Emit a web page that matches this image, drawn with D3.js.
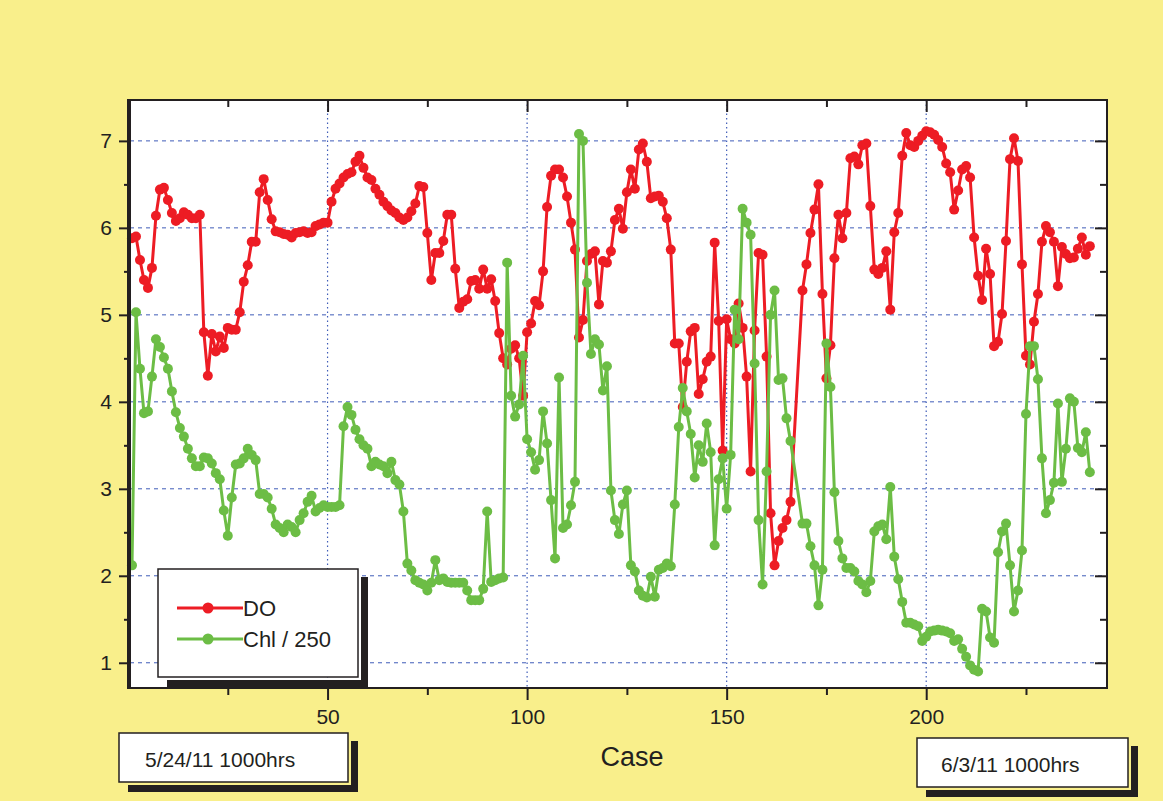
<!DOCTYPE html>
<html>
<head>
<meta charset="utf-8">
<script src="https://cdn.jsdelivr.net/npm/d3@7"></script>
<style>
  body { margin: 0; background: #fff; }
  text { font-family: "Liberation Sans", Arial, Helvetica, sans-serif; fill: #231f20; }
</style>
</head>
<body>
<script>
// values, one per case (null = no sample)
const doValues = [
  5.88, 5.90, 5.63, 5.40, 5.31, 5.54, 6.14, 6.44, 6.46, 6.32,
  6.17, 6.08, 6.11, 6.18, 6.15, 6.11, 6.11, 6.15, 4.80, 4.30,
  4.78, 4.58, 4.75, 4.62, 4.85, 4.83, 4.83, 5.03, 5.38, 5.57,
  5.84, 5.84, 6.41, 6.56, 6.32, 6.10, 5.96, 5.95, 5.93, 5.92,
  5.89, 5.94, 5.95, 5.96, 5.94, 5.95, 6.02, 6.04, 6.06, 6.06,
  6.30, 6.45, 6.51, 6.58, 6.62, 6.64, 6.76, 6.83, 6.69, 6.58,
  6.55, 6.45, 6.38, 6.30, 6.25, 6.20, 6.17, 6.12, 6.09, 6.12,
  6.19, 6.28, 6.48, 6.47, 5.94, 5.40, 5.71, 5.71, 5.85, 6.15,
  6.15, 5.53, 5.08, 5.15, 5.18, 5.39, 5.40, 5.30, 5.52, 5.30,
  5.41, 5.16, 4.79, 4.50, 4.43, 4.61, 4.65, 4.50, 4.07, 4.80,
  4.90, 5.16, 5.11, 5.50, 6.24, 6.60, 6.67, 6.67, 6.58, 6.36,
  6.06, 5.75, 4.74, 4.94, 5.62, 5.70, 5.73, 5.12, 5.62, 5.60,
  5.73, 6.09, 6.22, 5.99, 6.41, 6.67, 6.45, 6.90, 6.97, 6.76,
  6.34, 6.36, 6.37, 6.30, 6.11, 5.75, 4.67, 4.67, 3.94, 4.46,
  4.81, 4.85, 4.09, 4.26, 4.46, 4.52, 5.83, 4.93, 3.44, 4.95,
  4.72, 4.67, 5.13, 4.85, 4.29, 3.20, 4.82, 5.71, 5.69, 4.52,
  2.72, 2.12, 2.40, 2.55, 2.64, 2.85, null, null, 5.28, 5.58,
  5.94, 6.21, 6.50, 5.24, 4.27, 4.65, 5.65, 6.15, 5.88, 6.17,
  6.80, 6.82, 6.73, 6.95, 6.97, 6.25, 5.52, 5.47, 5.54, 5.73,
  5.06, 5.95, 6.17, 6.83, 7.09, 6.95, 6.93, 7.00, 7.06, 7.11,
  7.10, 7.07, 7.01, 6.93, 6.74, 6.64, 6.21, 6.43, 6.67, 6.71,
  6.58, 5.89, 5.45, 5.17, 5.76, 5.47, 4.64, 4.69, 5.01, 5.85,
  6.79, 7.03, 6.77, 5.58, 4.53, 4.43, 4.92, 5.24, 5.84, 6.02,
  5.95, 5.84, 5.33, 5.78, 5.70, 5.65, 5.66, 5.76, 5.89, 5.69, 5.79
];

const chlValues = [
  2.12, 5.03, 4.38, 3.87, 3.89, 4.29, 4.72, 4.63, 4.51, 4.38,
  4.12, 3.88, 3.70, 3.60, 3.46, 3.35, 3.26, 3.26, 3.36, 3.35,
  3.29, 3.18, 3.11, 2.75, 2.46, 2.90, 3.28, 3.29, 3.35, 3.46,
  3.39, 3.33, 2.94, 2.94, 2.90, 2.77, 2.59, 2.55, 2.50, 2.59,
  2.56, 2.50, 2.64, 2.72, 2.85, 2.92, 2.74, 2.78, 2.81, 2.79,
  2.79, 2.79, 2.81, 3.72, 3.94, 3.85, 3.68, 3.57, 3.50, 3.46,
  3.26, 3.31, 3.28, 3.26, 3.18, 3.31, 3.10, 3.05, 2.74, 2.14,
  2.06, 1.95, 1.92, 1.90, 1.83, 1.92, 2.18, 1.95, 1.97, 1.93,
  1.92, 1.92, 1.92, 1.92, 1.83, 1.72, 1.72, 1.72, 1.85, 2.74,
  1.93, 1.95, 1.97, 1.98, 5.60, 4.07, 3.83, 3.97, 4.53, 3.57,
  3.42, 3.22, 3.33, 3.89, 3.52, 2.87, 2.20, 4.28, 2.55, 2.59,
  2.81, 3.08, 7.08, 7.00, 5.37, 4.55, 4.72, 4.66, 4.13, 4.41,
  2.98, 2.64, 2.48, 2.82, 2.98, 2.12, 2.05, 1.83, 1.77, 1.75,
  1.99, 1.76, 2.07, 2.09, 2.14, 2.11, 2.82, 3.71, 4.16, 3.89,
  3.63, 3.13, 3.50, 3.31, 3.75, 3.42, 2.35, 3.11, 3.35, 2.77,
  3.39, 5.06, 4.72, 6.22, 6.06, 5.92, 4.44, 2.64, 1.90, 3.20,
  5.00, 5.28, 4.25, 4.27, 3.81, 3.55, null, null, 2.60, 2.60,
  2.34, 2.12, 1.66, 2.07, 4.67, 4.17, 2.96, 2.40, 2.20, 2.09,
  2.09, 2.05, 1.94, 1.90, 1.81, 1.94, 2.51, 2.57, 2.59, 2.42,
  3.02, 2.22, 1.96, 1.70, 1.46, 1.46, 1.44, 1.42, 1.25, 1.30,
  1.36, 1.37, 1.38, 1.37, 1.36, 1.34, 1.25, 1.27, 1.16, 1.07,
  0.97, 0.92, 0.90, 1.62, 1.59, 1.29, 1.23, 2.27, 2.51, 2.60,
  2.12, 1.59, 1.83, 2.29, 3.86, 4.64, 4.64, 4.26, 3.35, 2.72,
  2.87, 3.07, 3.98, 3.08, 3.46, 4.04, 4.00, 3.47, 3.42, 3.65, 3.19
];

const cases = doValues.map((_, i) => i + 1);
const seriesNames = ['DO', 'Chl / 250'];
const xMajorTicks = [50, 100, 150, 200];
const xMinorTicks = [25, 75, 125, 175, 225];
const yMajorTicks = [1, 2, 3, 4, 5, 6, 7];
const yMinorTicks = [1.5, 2.5, 3.5, 4.5, 5.5, 6.5];
const xTitle = 'Case';
const startLabel = '5/24/11 1000hrs';
const endLabel = '6/3/11 1000hrs';

const width = 1163;
const height = 801;
const plotLeft = 130, plotRight = 1107, plotTop = 100, plotBottom = 688;
const ink = '#231f20';
const colors = ['#ed1c24', '#6cbd45'];

const x = d3.scaleLinear().domain([0.5, 245.3]).range([plotLeft, plotRight]);
const y = d3.scaleLinear().domain([0.71, 7.47]).range([plotBottom, plotTop]);

const svg = d3.select('body').append('svg')
  .attr('width', width)
  .attr('height', height);

svg.append('rect')
  .attr('width', width).attr('height', height)
  .attr('fill', '#f9ef8b');

svg.append('rect')
  .attr('x', plotLeft).attr('y', plotTop)
  .attr('width', plotRight - plotLeft).attr('height', plotBottom - plotTop)
  .attr('fill', '#fff');

// grid
svg.append('g').selectAll('line')
  .data(yMajorTicks)
  .join('line')
  .attr('x1', plotLeft).attr('x2', plotRight)
  .attr('y1', d => y(d)).attr('y2', d => y(d))
  .attr('stroke', '#3f5cb8')
  .attr('stroke-width', 1)
  .attr('stroke-dasharray', '4,4');

svg.append('g').selectAll('line')
  .data(xMajorTicks)
  .join('line')
  .attr('x1', d => x(d)).attr('x2', d => x(d))
  .attr('y1', plotTop).attr('y2', plotBottom)
  .attr('stroke', '#3f5cb8')
  .attr('stroke-width', 1.2)
  .attr('stroke-dasharray', '1.5,3');

// series
const series = [doValues, chlValues].map(vals =>
  cases.map((c, i) => ({c, v: vals[i]})).filter(d => d.v !== null));

const line = d3.line().x(d => x(d.c)).y(d => y(d.v));

series.forEach((data, k) => {
  const g = svg.append('g');
  g.append('path')
    .datum(data)
    .attr('d', line)
    .attr('fill', 'none')
    .attr('stroke', colors[k])
    .attr('stroke-width', 3)
    .attr('stroke-linejoin', 'round');
  g.selectAll('circle')
    .data(data)
    .join('circle')
    .attr('cx', d => x(d.c))
    .attr('cy', d => y(d.v))
    .attr('r', 5)
    .attr('fill', colors[k]);
});

// axes
const styleAxis = g => {
  g.select('.domain').remove();
  g.selectAll('line').attr('stroke', ink).attr('stroke-width', 2);
  g.selectAll('text').style('font-size', '21px').attr('fill', ink);
};

svg.append('g').attr('transform', `translate(${plotLeft},0)`)
  .call(d3.axisLeft(y).tickValues(yMajorTicks).tickSize(11).tickPadding(7).tickFormat(d3.format('d')))
  .call(styleAxis);
svg.append('g').attr('transform', `translate(${plotLeft},0)`)
  .call(d3.axisLeft(y).tickValues(yMinorTicks).tickSize(6).tickFormat(''))
  .call(styleAxis);

svg.append('g').attr('transform', `translate(${plotRight},0)`)
  .call(d3.axisRight(y).tickValues(yMajorTicks).tickSize(-12).tickFormat(''))
  .call(styleAxis);
svg.append('g').attr('transform', `translate(${plotRight},0)`)
  .call(d3.axisRight(y).tickValues(yMinorTicks).tickSize(-7).tickFormat(''))
  .call(styleAxis);

svg.append('g').attr('transform', `translate(0,${plotBottom})`)
  .call(d3.axisBottom(x).tickValues(xMajorTicks).tickSize(12).tickPadding(9).tickFormat(d3.format('d')))
  .call(styleAxis);
svg.append('g').attr('transform', `translate(0,${plotBottom})`)
  .call(d3.axisBottom(x).tickValues(xMinorTicks).tickSize(7).tickFormat(''))
  .call(styleAxis);

svg.append('g').attr('transform', `translate(0,${plotTop})`)
  .call(d3.axisTop(x).tickValues(xMajorTicks).tickSize(-12).tickFormat(''))
  .call(styleAxis);
svg.append('g').attr('transform', `translate(0,${plotTop})`)
  .call(d3.axisTop(x).tickValues(xMinorTicks).tickSize(-7).tickFormat(''))
  .call(styleAxis);

// frame
svg.append('rect')
  .attr('x', plotLeft).attr('y', plotTop)
  .attr('width', plotRight - plotLeft).attr('height', plotBottom - plotTop)
  .attr('fill', 'none')
  .attr('stroke', ink)
  .attr('stroke-width', 2);
svg.append('line')
  .attr('x1', plotLeft - 2).attr('x2', plotLeft - 2)
  .attr('y1', plotTop - 1).attr('y2', plotBottom + 1)
  .attr('stroke', ink).attr('stroke-width', 2);

svg.append('text')
  .attr('x', 632).attr('y', 766)
  .attr('text-anchor', 'middle')
  .style('font-size', '27px')
  .text(xTitle);

// boxes with a dark drop shadow
function shadowBox(bx, by, bw, bh) {
  const g = svg.append('g');
  g.append('rect').attr('x', bx + bw + 3).attr('y', by + 8)
    .attr('width', 7).attr('height', bh + 1).attr('fill', ink);
  g.append('rect').attr('x', bx + 9).attr('y', by + bh + 3)
    .attr('width', bw + 1).attr('height', 7).attr('fill', ink);
  g.append('rect').attr('x', bx).attr('y', by)
    .attr('width', bw).attr('height', bh)
    .attr('fill', '#fff').attr('stroke', ink).attr('stroke-width', 1.5);
  return g;
}

const legend = shadowBox(158, 569, 200, 108);
series.forEach((_, k) => {
  const ly = 608 + k * 31;
  legend.append('line')
    .attr('x1', 177).attr('x2', 243)
    .attr('y1', ly).attr('y2', ly)
    .attr('stroke', colors[k]).attr('stroke-width', 3);
  legend.append('circle')
    .attr('cx', 208).attr('cy', ly).attr('r', 5.5)
    .attr('fill', colors[k]);
  legend.append('text')
    .attr('x', 243).attr('y', ly + 8)
    .style('font-size', '22px')
    .text(seriesNames[k]);
});

shadowBox(119, 733, 229, 49)
  .append('text').attr('x', 145).attr('y', 767)
  .style('font-size', '21px').text(startLabel);

shadowBox(917, 738, 211, 49)
  .append('text').attr('x', 941).attr('y', 772)
  .style('font-size', '21px').text(endLabel);
</script>
</body>
</html>
